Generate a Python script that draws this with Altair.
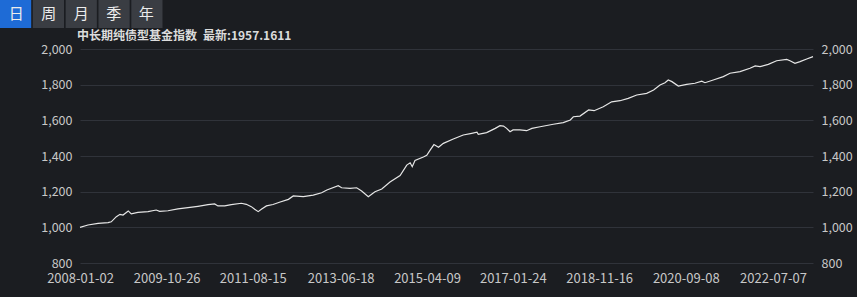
import altair as alt
import pandas as pd

# ---------------- data ----------------
index_name = "中长期纯债型基金指数"
tabs = ["日", "周", "月", "季", "年"]
active_tab = "日"

dates = [
    "2008-01-02", "2008-03-03", "2008-05-19", "2008-08-04", "2008-08-28", "2008-10-06",
    "2008-11-03", "2008-11-26", "2009-01-05", "2009-01-28", "2009-03-20", "2009-06-05",
    "2009-08-07", "2009-09-02", "2009-11-05", "2010-01-20", "2010-04-07", "2010-06-22",
    "2010-09-07", "2010-10-28", "2010-11-22", "2011-01-13", "2011-03-04", "2011-05-20",
    "2011-06-27", "2011-08-04", "2011-08-30", "2011-09-26", "2011-10-20", "2011-11-28",
    "2012-01-17", "2012-03-12", "2012-05-14", "2012-06-20", "2012-09-05", "2012-11-20",
    "2013-01-23", "2013-03-04", "2013-05-30", "2013-06-25", "2013-08-28", "2013-10-18",
    "2013-11-25", "2014-01-15", "2014-03-07", "2014-04-28", "2014-06-30", "2014-09-15",
    "2014-11-05", "2014-12-01", "2014-12-17", "2015-01-07", "2015-03-12", "2015-04-07",
    "2015-05-04", "2015-06-01", "2015-07-06", "2015-08-12", "2015-10-27", "2016-01-11",
    "2016-03-16", "2016-04-25", "2016-05-05", "2016-07-08", "2016-09-12", "2016-10-18",
    "2016-11-14", "2016-12-08", "2017-01-03", "2017-01-26", "2017-03-20", "2017-05-10",
    "2017-06-19", "2017-08-21", "2017-11-30", "2018-02-14", "2018-04-09", "2018-05-02",
    "2018-06-22", "2018-08-27", "2018-10-08", "2018-12-17", "2019-02-19", "2019-04-24",
    "2019-06-26", "2019-08-30", "2019-11-14", "2020-01-06", "2020-02-24", "2020-04-02",
    "2020-04-27", "2020-05-25", "2020-07-13", "2020-09-15", "2020-11-17", "2021-01-08",
    "2021-02-02", "2021-04-06", "2021-06-22", "2021-08-12", "2021-10-28", "2022-01-12",
    "2022-02-21", "2022-03-30", "2022-06-01", "2022-08-04", "2022-10-20", "2022-11-14",
    "2022-12-22", "2023-01-30", "2023-03-22", "2023-05-09",
]
values = [
    1000, 1013, 1022, 1026, 1031, 1060,
    1073, 1069, 1092, 1075, 1084, 1088,
    1097, 1090, 1093, 1103, 1110, 1118,
    1127, 1131, 1120, 1120, 1127, 1135,
    1129, 1116, 1101, 1088, 1101, 1120,
    1128, 1142, 1157, 1176, 1172, 1181,
    1194, 1209, 1233, 1222, 1219, 1222,
    1204, 1172, 1200, 1215, 1254, 1290,
    1349, 1362, 1340, 1375, 1394, 1404,
    1434, 1464, 1449, 1471, 1495, 1518,
    1527, 1533, 1522, 1531, 1555, 1570,
    1568, 1555, 1536, 1546, 1546, 1542,
    1555, 1564, 1578, 1587, 1602, 1620,
    1624, 1658, 1654, 1676, 1704, 1710,
    1723, 1742, 1751, 1770, 1798, 1811,
    1826, 1817, 1792, 1802, 1808, 1820,
    1811, 1826, 1845, 1864, 1873, 1892,
    1905, 1901, 1914, 1934, 1942, 1934,
    1920, 1929, 1944, 1957.1611,
]

x_tick_labels = ["2008-01-02", "2009-10-26", "2011-08-15", "2013-06-18", "2015-04-09",
                 "2017-01-24", "2018-11-16", "2020-09-08", "2022-07-07"]
y_ticks = [800, 1000, 1200, 1400, 1600, 1800, 2000]
x_domain = ["2008-01-02", "2023-05-09"]

# ---------------- styling ----------------
BG = "#1b1d21"
GRID = "#30333a"
LABEL = "#c8c8c8"
LINE = "#e6e6e6"
BLUE = "#1e6bd6"
TAB_GRAY = "#3a3d43"
FONT = "Noto Sans CJK SC"


def dt(s):
    y, m, d = (int(p) for p in s.split("-"))
    return alt.DateTime(year=y, month=m, date=d, utc=True)


df = pd.DataFrame({"date": dates, "value": values})
tabs_df = pd.DataFrame({"tab": tabs, "active": [t == active_tab for t in tabs]})
title_df = pd.DataFrame({"label": [f"{index_name}\u2002最新:{values[-1]:.4f}"]})

x_scale = alt.Scale(type="utc", domain=[dt(s) for s in x_domain])
y_scale = alt.Scale(domain=[y_ticks[0], y_ticks[-1]], nice=False, zero=False)

x_enc = alt.X(
    "date:T",
    scale=x_scale,
    axis=alt.Axis(
        values=[dt(s) for s in x_tick_labels],
        labelExpr="utcFormat(datum.value, '%Y-%m-%d')",
        title=None,
        grid=False,
        domain=False,
        ticks=False,
        tickSize=0,
        labelPadding=9,
        labelFlush=False,
        labelOverlap=False,
        labelFont=FONT,
        labelFontSize=13,
        labelColor=LABEL,
    ),
)


def y_axis(orient, grid):
    return alt.Axis(
        orient=orient,
        values=y_ticks,
        labelExpr="format(datum.value, ',.0f')",
        title=None,
        grid=grid,
        gridColor=GRID,
        gridWidth=1,
        domain=False,
        ticks=False,
        tickSize=0,
        labelPadding=8,
        labelFont=FONT,
        labelFontSize=12.5,
        labelColor=LABEL,
    )


line_left = alt.Chart(df).mark_line(color=LINE, strokeWidth=1.2).encode(
    x=x_enc,
    y=alt.Y("value:Q", scale=y_scale, axis=y_axis("left", True)),
)

line_right = alt.Chart(df).mark_line(opacity=0).encode(
    x=alt.X("date:T", scale=x_scale, axis=None),
    y=alt.Y("value:Q", scale=y_scale, axis=y_axis("right", False)),
)

tab_x = alt.X(
    "tab:N",
    sort=tabs,
    scale=alt.Scale(domain=tabs, range=[-80, 82.5], paddingInner=0.05, paddingOuter=0),
    axis=None,
)

tab_rects = alt.Chart(tabs_df).mark_rect().encode(
    x=tab_x,
    y=alt.value(-49),
    y2=alt.value(-21),
    color=alt.condition(alt.datum.active, alt.value(BLUE), alt.value(TAB_GRAY)),
)

tab_text = alt.Chart(tabs_df).mark_text(
    font=FONT, fontSize=15, color="#ececec", baseline="middle", align="center"
).encode(
    x=tab_x,
    y=alt.value(-35),
    text="tab:N",
)

title_text = alt.Chart(title_df).mark_text(
    font=FONT, fontSize=12, fontWeight="bold", color="#dcdcdc", align="left", baseline="middle"
).encode(
    x=alt.value(-3),
    y=alt.value(-13),
    text="label:N",
)

chart = (
    alt.layer(line_left, line_right, tab_rects, tab_text, title_text)
    .resolve_scale(x="independent", y="independent")
    .properties(
        width=733,
        height=214,
        background=BG,
        autosize=alt.AutoSizeParams(type="none"),
        padding={"left": 80, "top": 49, "right": 44, "bottom": 34},
    )
    .configure_view(stroke=None)
)

chart.save("out.html", embed_options={"renderer": "svg", "actions": False})
